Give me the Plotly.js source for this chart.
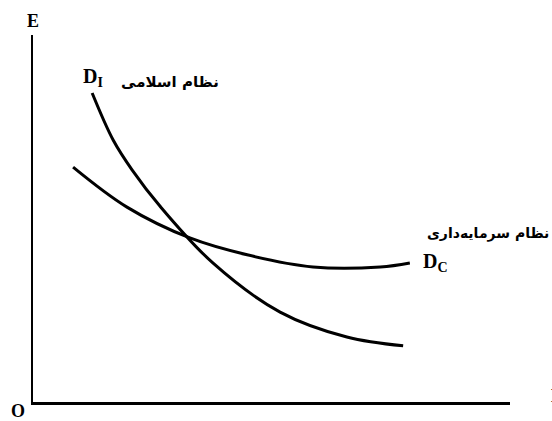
<!DOCTYPE html>
<html>
<head>
<meta charset="utf-8">
<script src="https://cdn.plot.ly/plotly-3.0.1.min.js"></script>
<style>
  html, body { margin: 0; padding: 0; background: #fff; }
  #chart { width: 552px; height: 421px; }
</style>
</head>
<body>
<div id="chart"></div>
<script>
// curve points (x: quantity, y: E)
const dIslamicX = [12.4, 16.8, 20.8, 26.6, 37.7, 51.8, 65.8, 77.6];
const dIslamicY = [84.2, 71.4, 63.2, 53.4, 37.9, 24.5, 17.7, 15.3];

const dCapitalX = [8.4, 19.7, 32.9, 44.9, 58.7, 72.8, 79.0];
const dCapitalY = [64.0, 53.1, 44.7, 40.1, 36.8, 36.8, 37.9];

const labelIslamic = "نظام اسلامی";
const labelCapital = "نظام سرمایه‌داری";

const serif = "Liberation Serif, Times New Roman, serif";
const persian = "DejaVu Sans, sans-serif";

function curve(x, y) {
  return {
    x: x, y: y, type: "scatter", mode: "lines",
    line: { color: "#000", width: 3, shape: "spline", smoothing: 1 },
    hoverinfo: "skip", showlegend: false,
  };
}

const axisBase = {
  showline: true, linecolor: "#000", linewidth: 2.5,
  showgrid: false, zeroline: false, showticklabels: false, ticks: "",
  fixedrange: true,
};

// labels on the curves sit in data units; axis letters sit in paper units
const dataLabels = [
  { x: 12.6, y: 88.3, text: "<b>D<sub>I</sub></b>", font: { family: serif, size: 20, color: "#000" } },
  { x: 28.7, y: 87.2, text: "<b>" + labelIslamic + "</b>", font: { family: persian, size: 15, color: "#000" } },
  { x: 95.4, y: 46.0, text: "<b>" + labelCapital + "</b>", font: { family: persian, size: 14, color: "#000" } },
  { x: 84.3, y: 37.9, text: "<b>D<sub>C</sub></b>", font: { family: serif, size: 20, color: "#000" } },
].map((a) => Object.assign({ xref: "x", yref: "y", showarrow: false }, a));

const axisLetters = [
  { x: 0, y: 1.038, xanchor: "center", text: "<b>E</b>" },
  { x: -0.031, y: -0.025, xanchor: "center", text: "<b>O</b>" },
  { x: 1.082, y: 0.016, xanchor: "left", text: "<b>L</b>" },
].map((a) => Object.assign({
  xref: "paper", yref: "paper", yanchor: "middle", showarrow: false,
  font: { family: serif, size: 18, color: "#000" },
}, a));

const layout = {
  width: 552, height: 421,
  margin: { l: 33, r: 42, t: 35, b: 19 },
  paper_bgcolor: "#fff", plot_bgcolor: "#fff",
  xaxis: Object.assign({}, axisBase, { range: [0, 100] }),
  yaxis: Object.assign({}, axisBase, { range: [0, 100] }),
  annotations: dataLabels.concat(axisLetters),
};

Plotly.newPlot("chart", [curve(dIslamicX, dIslamicY), curve(dCapitalX, dCapitalY)], layout,
  { staticPlot: true, displayModeBar: false });
</script>
</body>
</html>
